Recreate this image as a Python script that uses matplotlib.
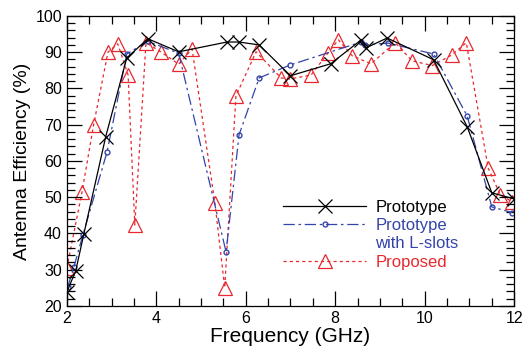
import matplotlib.pyplot as plt
from matplotlib.lines import Line2D
from matplotlib.ticker import MultipleLocator

plt.rcParams['font.family'] = ['Liberation Sans', 'DejaVu Sans']

# Prototype
proto_f = [2.0, 2.2, 2.38, 2.87, 3.34, 3.81, 4.5, 5.58, 5.85, 6.3, 7.0, 7.9,
           8.58, 8.69, 9.16, 10.2, 10.95, 11.5, 12.0]
proto_eff = [23.8, 29.7, 39.8, 66.7, 88.4, 93.7, 90.1, 92.8, 92.8, 92.0, 83.5, 86.8,
             93.4, 91.2, 93.9, 87.9, 69.4, 51.2, 49.5]

# Prototype with L-slots
lslot_f = [2.02, 2.16, 2.36, 2.9, 3.34, 3.81, 4.5, 5.56, 5.85, 6.3, 7.0,
           8.58, 8.66, 9.18, 10.2, 10.95, 11.5, 11.96]
lslot_eff = [25.2, 30.8, 39.6, 62.5, 89.5, 93.0, 89.7, 34.9, 67.2, 82.9, 86.5,
             92.8, 92.0, 92.5, 89.5, 72.4, 47.3, 45.7]

# Proposed
prop_f = [2.0, 2.34, 2.6, 2.92, 3.14, 3.37, 3.52, 3.77, 4.1, 4.5, 4.8, 5.31, 5.53,
          5.78, 6.23, 6.79, 6.99, 7.46, 7.84, 8.07, 8.38, 8.8, 9.34, 9.72, 10.17,
          10.6, 10.93, 11.42, 11.69, 11.96]
prop_eff = [30.5, 51.4, 70.0, 90.0, 92.3, 83.7, 42.3, 92.6, 90.1, 86.7, 90.9, 48.4, 25.0,
            77.9, 90.1, 82.9, 82.6, 83.7, 89.8, 93.4, 89.0, 86.8, 92.6, 87.6, 86.3,
            89.2, 92.6, 58.0, 50.6, 48.7]

red = '#e8282e'
blue = '#3344aa'

fig = plt.figure(figsize=(5.22, 3.54), dpi=100)
ax = fig.add_axes([0.128, 0.136, 0.857, 0.819])

h1, = ax.plot(proto_f, proto_eff, color='black', lw=0.9, marker='x', ms=10, mew=0.9,
              zorder=3)
h2, = ax.plot(lslot_f, lslot_eff, color=blue, lw=0.9, dashes=(9, 3, 2, 3), marker='o',
              ms=3.5, mfc='none', mew=1.0, zorder=2)
h3, = ax.plot(prop_f, prop_eff, color=red, lw=0.9, dashes=(2.5, 2.5), marker='^', ms=10,
              mfc='none', mew=0.9, zorder=1)

ax.set_xlim(2, 12)
ax.set_ylim(20, 100)
ax.xaxis.set_major_locator(MultipleLocator(2))
ax.xaxis.set_minor_locator(MultipleLocator(0.5))
ax.yaxis.set_major_locator(MultipleLocator(10))
ax.yaxis.set_minor_locator(MultipleLocator(2))
ax.tick_params(which='both', direction='in', top=True, right=True, labelsize=11.5)
ax.tick_params(which='major', length=11, width=0.9)
ax.tick_params(which='minor', length=5.5, width=0.9)
for s in ax.spines.values():
    s.set_linewidth(0.9)

ax.set_xlabel('Frequency (GHz)', fontsize=15, labelpad=1)
ax.set_ylabel('Antenna Efficiency (%)', fontsize=14, labelpad=3)

# legend: second label wraps onto a line with no handle
blank = Line2D([], [], color='none')
leg = ax.legend([h1, h2, blank, h3],
                ['Prototype', 'Prototype', 'with L-slots', 'Proposed'],
                loc='upper left', bbox_to_anchor=(0.483, 0.366), frameon=False,
                handlelength=5.0, fontsize=12, labelspacing=0.2, handletextpad=0.55,
                borderpad=0, borderaxespad=0,
                labelcolor=['black', blue, blue, red])

fig.savefig('out.png', dpi=100)
